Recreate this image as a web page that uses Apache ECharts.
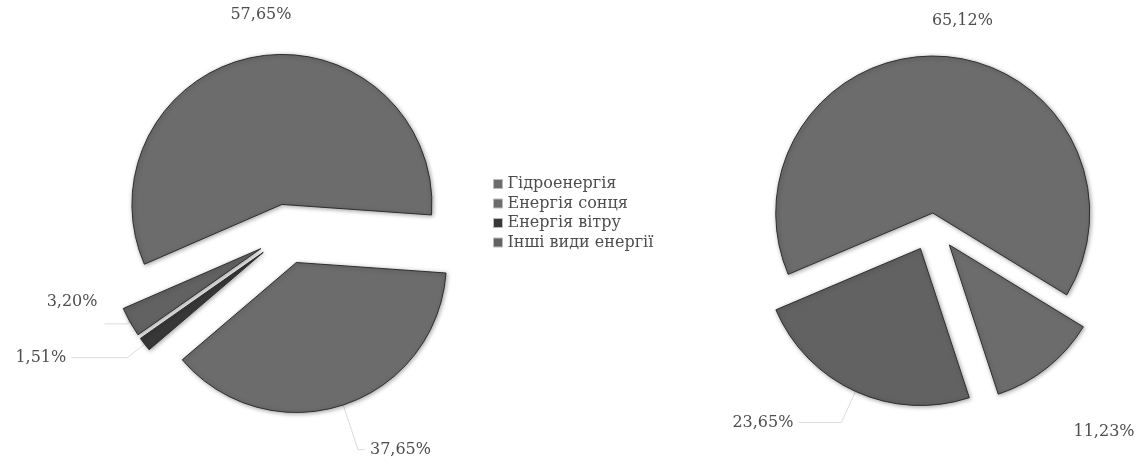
<!DOCTYPE html>
<html>
<head>
<meta charset="utf-8">
<script src="https://cdn.jsdelivr.net/npm/echarts@6/dist/echarts.min.js"></script>
<style>
  html, body { margin: 0; padding: 0; background: #ffffff; }
  #chart { width: 1142px; height: 466px; }
</style>
</head>
<body>
<div id="chart"></div>
<script>
// ---- data ----
const categories = ['Гідроенергія', 'Енергія сонця', 'Енергія вітру', 'Інші види енергії'];
const leftValues = [57.65, 37.65, 1.51, 3.20];
const rightValues = [65.12, 11.23, null, 23.65];

// ---- styles ----
const sliceColors = ['#6c6c6c', '#6c6c6c', '#383838', '#626262'];
const FONT = 'DejaVu Serif';
const textColor = '#4d4d4d';

// label geometry (per category, not data)
const leftLabelCfg = [
  { len: 42, len2: 0, line: false, dx: 47, dy: 0 },
  { len: 47, len2: 7, line: true, dx: 0, dy: 0 },
  { len: 22, len2: 56, line: true, dx: 0, dy: 0 },
  { len: 4, len2: 22, line: true, dx: -2, dy: -22 }
];
const rightLabelCfg = [
  { len: 36, len2: 0, line: false, dx: -20, dy: 0 },
  { len: 64, len2: 0, line: false, dx: -18, dy: 14 },
  null,
  { len: 34, len2: 43, line: true, dx: 0, dy: 0 }
];

function fmt(v) { return v.toFixed(2).replace('.', ',') + '%'; }

const baseItemStyle = {
  borderColor: '#2e2e2e',
  borderWidth: 1,
  shadowBlur: 4,
  shadowColor: 'rgba(0,0,0,0.35)',
  shadowOffsetX: 1,
  shadowOffsetY: 1
};

function realItem(i, value, cfg) {
  return {
    name: categories[i],
    value: value,
    selected: true,
    itemStyle: Object.assign({}, baseItemStyle, { color: sliceColors[i] }),
    select: { itemStyle: Object.assign({}, baseItemStyle, { color: sliceColors[i] }) },
    label: { show: true },
    labelLine: { show: cfg.line, length: cfg.len, length2: cfg.len2 }
  };
}
function placeholderItem(i, value) {
  return {
    name: categories[i],
    value: value,
    selected: true,
    itemStyle: { color: 'rgba(0,0,0,0)', borderWidth: 0, shadowBlur: 0 },
    select: { itemStyle: { color: 'rgba(0,0,0,0)', borderWidth: 0, shadowBlur: 0 } },
    label: { show: false },
    labelLine: { show: false },
    emphasis: { disabled: true }
  };
}

const commonPie = {
  type: 'pie',
  clockwise: true,
  selectedMode: 'multiple',
  avoidLabelOverlap: false,
  animation: false,
  emphasis: { disabled: true },
  label: {
    show: true,
    position: 'outside',
    alignTo: 'none',
    fontFamily: FONT,
    fontSize: 16,
    color: textColor,
    formatter: function (p) { return fmt(p.value); }
  },
  labelLine: {
    show: true,
    smooth: false,
    lineStyle: { color: '#dcdcdc', width: 1 }
  }
};

// left pie
const leftData = categories.map(function (c, i) { return realItem(i, leftValues[i], leftLabelCfg[i]); });
const leftSeries = Object.assign({}, commonPie, {
  name: 'left',
  center: [287, 234],
  radius: 150,
  startAngle: 203.5,
  selectedOffset: 30,
  data: leftData,
  labelLayout: function (p) {
    const c = leftLabelCfg[p.dataIndex];
    return { dx: c.dx, dy: c.dy };
  }
});

// right pie: hydro slice exploded less than the others -> two overlaid series
const rightIdx = [];
rightValues.forEach(function (v, i) { if (v != null) rightIdx.push(i); });
const rightA = rightIdx.map(function (i) {
  return i === 0 ? realItem(i, rightValues[i], rightLabelCfg[i]) : placeholderItem(i, rightValues[i]);
});
const rightB = rightIdx.map(function (i) {
  return i !== 0 ? realItem(i, rightValues[i], rightLabelCfg[i]) : placeholderItem(i, rightValues[i]);
});
function rightLayout(p) {
  const c = rightLabelCfg[rightIdx[p.dataIndex]];
  return { dx: c.dx, dy: c.dy };
}
const rightSeriesA = Object.assign({}, commonPie, {
  name: 'rightA', center: [932, 223], radius: 157, startAngle: 203,
  selectedOffset: 10, data: rightA, labelLayout: rightLayout
});
const rightSeriesB = Object.assign({}, commonPie, {
  name: 'rightB', center: [932, 223], radius: 157, startAngle: 203,
  selectedOffset: 28, data: rightB, labelLayout: rightLayout
});

const chart = echarts.init(document.getElementById('chart'), null, { renderer: 'canvas' });
chart.setOption({
  backgroundColor: '#ffffff',
  animation: false,
  legend: {
    orient: 'vertical',
    left: 493,
    top: 176,
    padding: 0,
    itemWidth: 9,
    itemHeight: 9,
    itemGap: 3.5,
    icon: 'rect',
    selectedMode: false,
    textStyle: { fontFamily: FONT, fontSize: 16, lineHeight: 16, color: textColor },
    data: categories.map(function (c, i) {
      return { name: c, itemStyle: { color: sliceColors[i], borderColor: '#bbbbbb', borderWidth: 1 } };
    })
  },
  series: [leftSeries, rightSeriesA, rightSeriesB]
});
</script>
</body>
</html>
